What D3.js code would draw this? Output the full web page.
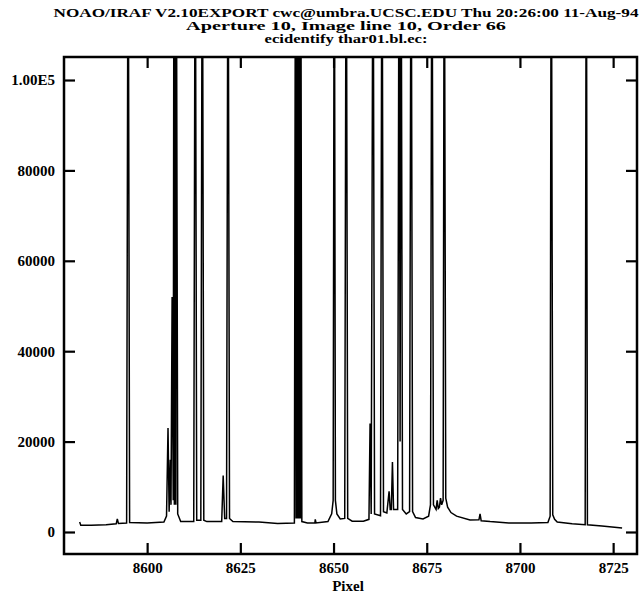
<!DOCTYPE html>
<html>
<head>
<meta charset="utf-8">
<script src="https://cdn.jsdelivr.net/npm/d3@7"></script>
<style>
  html, body { margin: 0; padding: 0; background: #fff; }
</style>
</head>
<body>
<svg id="chart" width="639" height="596"></svg>
<script>
// Title block
const titleLines = [
  "NOAO/IRAF V2.10EXPORT cwc@umbra.UCSC.EDU Thu 20:26:00 11-Aug-94",
  "Aperture 10, Image line 10, Order 66",
  "ecidentify thar01.bl.ec:"
];
const xLabel = "Pixel";

// Axis ticks
const xTicks = [8600, 8625, 8650, 8675, 8700, 8725];
const yTicks = [0, 20000, 40000, 60000, 80000, 100000];
const yTickLabels = ["0", "20000", "40000", "60000", "80000", "1.00E5"];

// Axis ranges
const xDomain = [8577.7, 8731.4];
const yDomain = [-4870, 105090];

// ThAr spectrum samples: pixel position and counts
const pixel = [
  8581.9, 8582.2, 8585.0, 8589.0, 8591.7, 8592.0, 8592.3, 8594.5, 8594.9, 8595.3,
  8600.0, 8604.5, 8605.2, 8605.6, 8605.9, 8606.2, 8606.4, 8606.7, 8607.0, 8607.2,
  8607.3, 8607.4, 8607.5, 8607.6, 8607.7, 8607.8, 8608.2, 8609.0,
  8612.5, 8612.9, 8613.3, 8614.4, 8614.8, 8615.2,
  8616.0, 8620.0, 8620.4, 8620.8, 8621.3, 8621.7, 8622.1, 8623.0, 8630.0, 8635.0,
  8639.5, 8639.8, 8639.95, 8640.1, 8640.25, 8640.4, 8640.55, 8640.7, 8640.85, 8641.0,
  8641.1, 8641.2, 8641.5, 8643.0, 8645.0, 8645.1,
  8645.3, 8648.5, 8649.5, 8649.9, 8650.2, 8650.5, 8650.9, 8651.8, 8653.0, 8653.4,
  8653.8, 8655.0, 8658.0, 8659.5, 8659.8, 8660.1, 8660.6, 8661.0, 8662.6, 8663.0,
  8663.4, 8664.3, 8664.9, 8665.2, 8665.5, 8665.8, 8666.1, 8667.2, 8667.6, 8667.85,
  8668.1, 8668.5, 8669.5, 8670.4, 8670.8, 8671.2, 8672.0, 8674.0, 8675.5, 8676.0,
  8676.4, 8676.8, 8677.5, 8677.8, 8678.1, 8678.4, 8678.7, 8679.0, 8679.4, 8679.7,
  8680.1, 8680.6, 8681.5, 8683.0, 8686.6, 8689.0, 8689.3, 8689.6, 8692.0, 8697.0,
  8703.0, 8707.5, 8708.1, 8708.4, 8708.8, 8709.3, 8710.0, 8714.0, 8717.5, 8717.8,
  8718.1, 8722.0, 8727.4
];
const counts = [
  2200, 1500, 1500, 1600, 1800, 2900, 1900, 2000, 150000, 2100,
  2000, 2200, 3500, 23000, 4500, 16000, 6000, 52000, 7000, 150000,
  6000, 150000, 6000, 150000, 6000, 150000, 4000, 2300,
  2300, 150000, 2600, 2600, 150000, 2600,
  2300, 2300, 12500, 3000, 3000, 150000, 3000, 2300, 2200, 1900,
  2000, 150000, 3000, 150000, 3000, 150000, 3000, 150000, 3000, 150000,
  3000, 150000, 2300, 2000, 2000, 2800,
  2000, 2300, 4000, 7000, 150000, 7000, 4000, 2900, 3000, 150000,
  3000, 2400, 2400, 2800, 24000, 4000, 150000, 4000, 3600, 150000,
  4500, 4200, 9000, 5000, 5000, 15500, 5000, 5000, 150000, 20000,
  150000, 5000, 4000, 4500, 150000, 4500, 3200, 2900, 3500, 6000,
  150000, 6000, 5000, 7000, 5200, 5500, 7500, 6000, 7000, 150000,
  7500, 5500, 4300, 3500, 2650, 2700, 4000, 2500, 2300, 2000,
  2000, 2100, 3500, 150000, 3800, 2800, 2200, 1800, 1600, 150000,
  1600, 1300, 900
];

const serif = '"Liberation Serif", "Times New Roman", serif';

const svg = d3.select("#chart");
const margin = { left: 64, right: 637, top: 57, bottom: 554 };

const x = d3.scaleLinear().domain(xDomain).range([margin.left, margin.right]);
const y = d3.scaleLinear().domain(yDomain).range([margin.bottom, margin.top]);

// Title
const titleY = [16.5, 29.5, 42.5];
const titleWidths = [585, 320, 163];
svg.append("g").selectAll("text").data(titleLines).join("text")
  .attr("x", 346)
  .attr("y", (d, i) => titleY[i])
  .attr("text-anchor", "middle")
  .style("font-family", serif)
  .style("font-weight", "bold")
  .style("font-size", "12px")
  .attr("textLength", (d, i) => titleWidths[i])
  .attr("lengthAdjust", "spacingAndGlyphs")
  .text(d => d);

// Spectrum, clipped to the plot frame
svg.append("clipPath").attr("id", "plot-clip")
  .append("rect")
  .attr("x", margin.left).attr("y", margin.top)
  .attr("width", margin.right - margin.left)
  .attr("height", margin.bottom - margin.top);

const spectrum = pixel.map((p, i) => [p, counts[i]]);
svg.append("path")
  .datum(spectrum)
  .attr("clip-path", "url(#plot-clip)")
  .attr("fill", "none")
  .attr("stroke", "#000")
  .attr("stroke-width", 1.5)
  .attr("d", d3.line().x(d => x(d[0])).y(d => y(d[1])));

// Axes with inward ticks on all four sides
const tickLen = 11;
function styleAxis(g) {
  g.select(".domain").remove();
  g.selectAll(".tick line").attr("stroke", "#000").attr("stroke-width", 2.2);
  g.selectAll(".tick text")
    .style("font-family", serif)
    .style("font-weight", "bold")
    .style("font-size", "15px")
    .attr("fill", "#000");
}

svg.append("g")
  .attr("transform", `translate(${margin.left},0)`)
  .call(d3.axisLeft(y).tickValues(yTicks)
    .tickFormat((d, i) => yTickLabels[i])
    .tickSize(-tickLen).tickPadding(9))
  .call(styleAxis);

svg.append("g")
  .attr("transform", `translate(${margin.right},0)`)
  .call(d3.axisRight(y).tickValues(yTicks).tickFormat("").tickSize(-tickLen))
  .call(styleAxis);

svg.append("g")
  .attr("transform", `translate(0,${margin.bottom})`)
  .call(d3.axisBottom(x).tickValues(xTicks).tickFormat(d3.format("d"))
    .tickSize(-tickLen).tickPadding(8))
  .call(styleAxis);

svg.append("g")
  .attr("transform", `translate(0,${margin.top})`)
  .call(d3.axisTop(x).tickValues(xTicks).tickFormat("").tickSize(-tickLen))
  .call(styleAxis);

// Frame
svg.append("rect")
  .attr("x", margin.left).attr("y", margin.top)
  .attr("width", margin.right - margin.left)
  .attr("height", margin.bottom - margin.top)
  .attr("fill", "none")
  .attr("stroke", "#000")
  .attr("stroke-width", 2.5);

// Axis title
svg.append("text")
  .attr("x", 348).attr("y", 591)
  .attr("text-anchor", "middle")
  .style("font-family", serif)
  .style("font-weight", "bold")
  .style("font-size", "15px")
  .text(xLabel);
</script>
</body>
</html>
